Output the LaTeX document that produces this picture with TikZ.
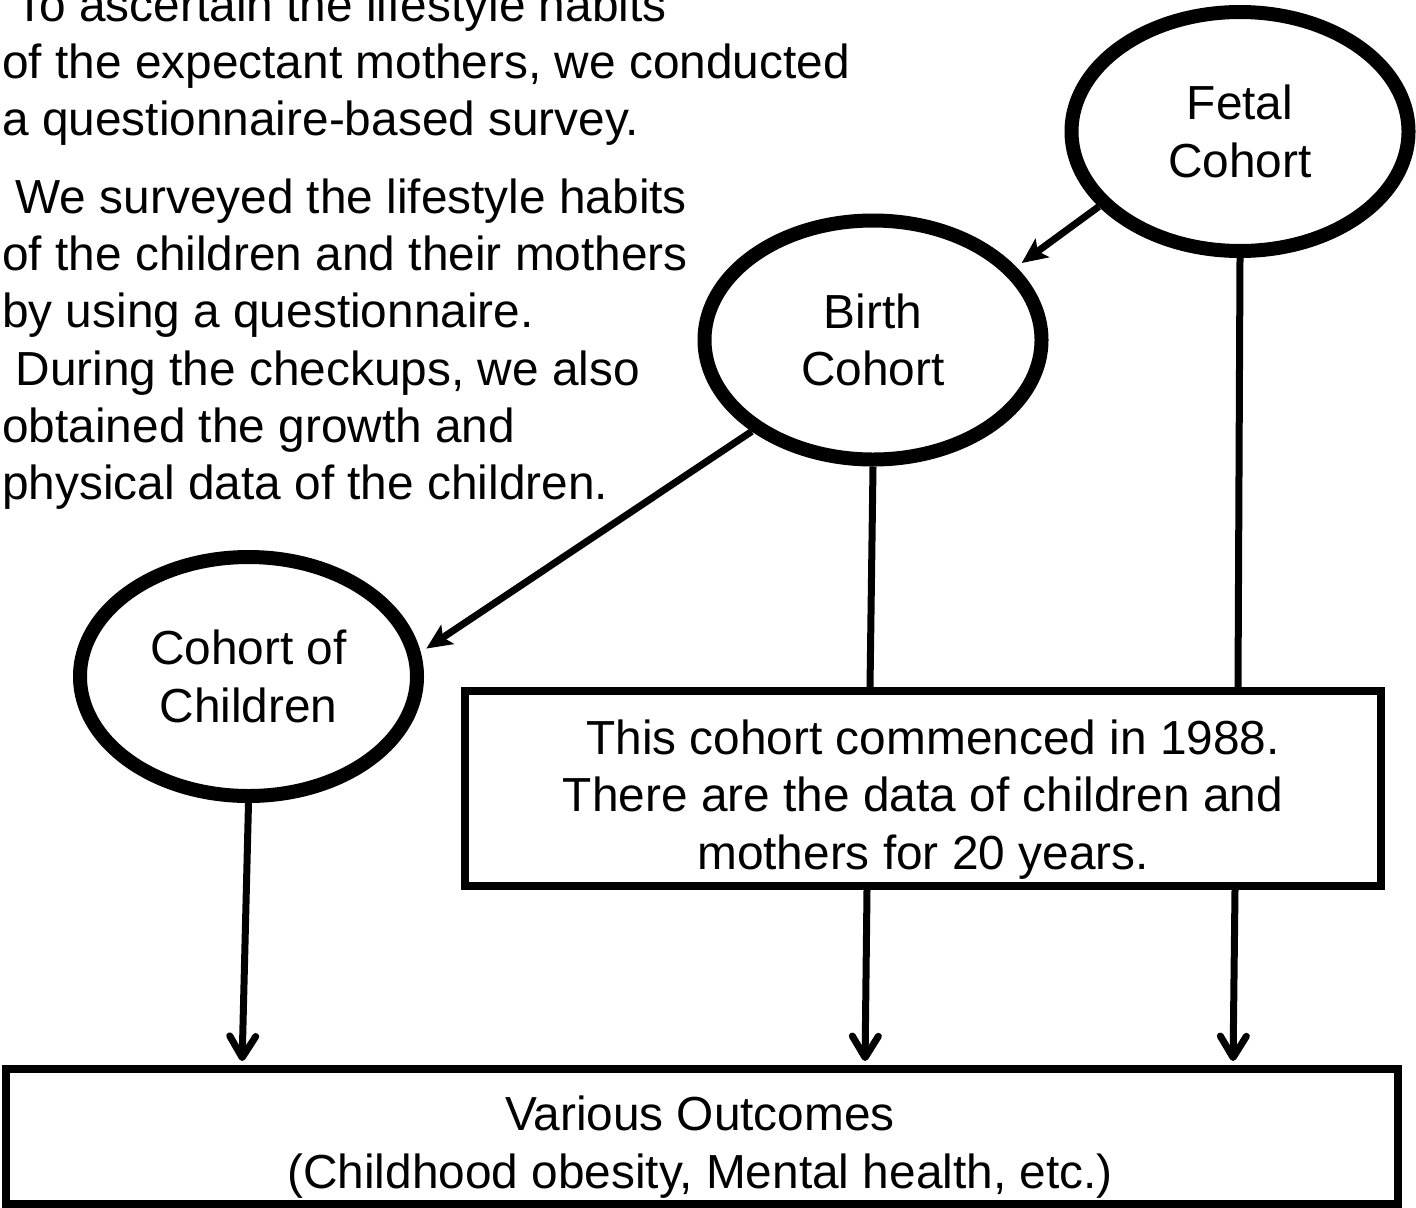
\documentclass[tikz,border=0pt]{standalone}
\usepackage{fontspec}
\setmainfont{Liberation Sans}
\usetikzlibrary{arrows.meta,shapes.geometric,calc}
\begin{document}
\begin{tikzpicture}[x=0.75pt,y=-0.75pt]
\tikzset{
  txt/.style={font=\fontsize{35.85pt}{43pt}\selectfont, inner sep=0pt},
  cohort/.style={ellipse, draw, line width=10.5pt, minimum width=252.75pt,
    minimum height=179.25pt, inner sep=0pt, align=center, txt},
  boxnode/.style={draw, line width=6pt, inner sep=0pt},
  conn/.style={line width=5.25pt},
  vee/.style={conn, -{Straight Barb[length=16pt,width=19.5pt,round]}},
  tri/.style={conn, -{Stealth[length=19pt,width=17pt,inset=4pt]}},
}
\useasboundingbox (0,0) rectangle (1416,1207);
\clip (0,0) rectangle (1416,1207);

% ellipses
\node[cohort] (fetal) at (1240,131.5) {Fetal\\Cohort};
\node[cohort] (birth) at (873,340) {Birth\\Cohort};
\node[cohort] (child) at (248.5,676.5) {Cohort of\\Children};

% boxes
\node[boxnode, minimum width=687pt, minimum height=146.25pt] (mid) at (923,788.5) {};
\node[txt, align=center] (midtext) at (923,799.5)
  {\hspace*{0.42em}This cohort commenced in 1988.\\There are the data of children and\\mothers for 20 years.};
\node[boxnode, minimum width=1044pt, minimum height=101.25pt] (outc) at (702,1136.5) {};
\node[txt, align=center] (outctext) at (700,1147)
  {Various Outcomes\\(Childhood obesity, Mental health, etc.)};

% left texts
\node[txt, align=left, anchor=west] (para1) at (2,66)
  {\hspace*{0.28em}To ascertain the lifestyle habits\\of the expectant mothers, we conducted\\a questionnaire-based survey.};
\node[txt, align=left, anchor=west] (para2) at (2,344)
  {\hspace*{0.28em}We surveyed the lifestyle habits\\of the children and their mothers\\by using a questionnaire.\\\hspace*{0.28em}During the checkups, we also\\obtained the growth and\\physical data of the children.};

% connectors
\draw[tri, shorten >=5pt] (fetal.208) -- (birth.27.5);
\draw[tri, shorten >=5pt] (birth.217) -- (child.8);
\draw[conn] (birth.south) -- ($(birth.south |- mid.north)+(-3,0)$);
\draw[conn] (fetal.south) -- ($(fetal.south |- mid.north)+(-2,0)$);
\draw[vee, shorten >=3pt] (child.south) -- ($(child.south |- outc.north)+(-6.5,0)$);
\draw[vee, shorten >=3pt] ($(mid.south)+(-56,0)$) -- ($(mid.south |- outc.north)+(-58,0)$);
\draw[vee, shorten >=3pt] ($(mid.south)+(312,0)$) -- ($(mid.south |- outc.north)+(310,0)$);
\end{tikzpicture}
\end{document}
